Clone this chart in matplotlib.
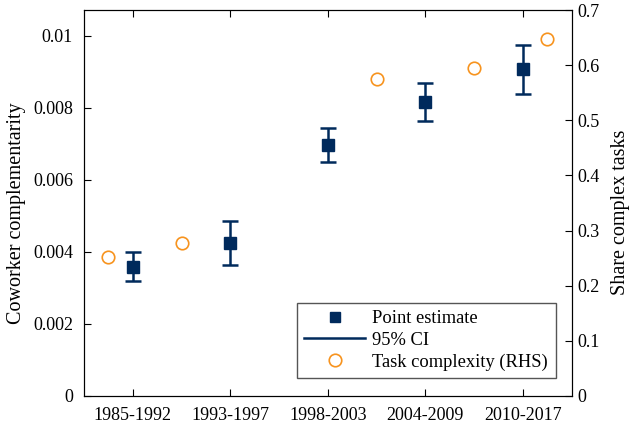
import numpy as np
import matplotlib
matplotlib.use('Agg')
from matplotlib import pyplot as plt
from matplotlib.lines import Line2D

plt.rcParams['font.family'] = 'Liberation Serif'
plt.rcParams['font.size'] = 13

####DATA####
periods = ['1985-1992', '1993-1997', '1998-2003', '2004-2009', '2010-2017']
est = [0.00359, 0.00426, 0.00697, 0.00817, 0.00907]
ci_lo = [0.00318, 0.00365, 0.00650, 0.00765, 0.00838]
ci_hi = [0.00399, 0.00486, 0.00745, 0.00869, 0.00975]
task_x = [0.75, 1.5, 3.5, 4.5, 5.25]
task_share = [0.252, 0.277, 0.575, 0.594, 0.647]
############

navy = '#002a5c'
orange = '#f7931e'

x = np.arange(1, len(periods) + 1)
est = np.array(est)
yerr = [est - np.array(ci_lo), np.array(ci_hi) - est]

fig = plt.figure(figsize=(6.29, 4.26), dpi=100)
ax = fig.add_axes([84/629, 30/426, (571.7-84)/629, (396-10)/426])
ax.errorbar(x, est, yerr=yerr, fmt='s', color=navy, ms=8, elinewidth=1.8,
            capsize=6, capthick=1.8, zorder=3)
ax.set_xlim(0.5, 5.5)
ax.set_ylim(0, 0.01072)
ax.set_xticks(x)
ax.set_xticklabels(periods)
ax.set_yticks([0, 0.002, 0.004, 0.006, 0.008, 0.01])
ax.set_yticklabels(['0', '0.002', '0.004', '0.006', '0.008', '0.01'])
ax.tick_params(direction='in', top=True, length=5, pad=8)
ax.set_ylabel('Coworker complementarity', fontsize=14.5)
ax.yaxis.set_label_coords(-0.119, 0.474)

ax2 = ax.twinx()
ax2.plot(task_x, task_share, 'o', mfc='none', mec=orange, ms=9, mew=1.2)
ax2.set_ylim(0, 0.7)
ax2.set_yticks(np.arange(0, 0.71, 0.1))
ax2.set_yticklabels(['0', '0.1', '0.2', '0.3', '0.4', '0.5', '0.6', '0.7'])
ax2.tick_params(direction='in', length=5, pad=4)
ax2.set_ylabel('Share complex tasks', rotation=90, fontsize=14.5)
ax2.yaxis.set_label_coords(1.08, 0.477)

handles = [Line2D([], [], ls='none', marker='s', color=navy, ms=7),
           Line2D([], [], color=navy, lw=1.8),
           Line2D([], [], ls='none', marker='o', mfc='none', mec=orange, ms=9, mew=1.2)]
labels = ['Point estimate', '95% CI', 'Task complexity (RHS)']
leg = ax.legend(handles, labels, loc='lower right', bbox_to_anchor=(0.986, 0.022),
                fancybox=False, edgecolor='#555555', handlelength=3.3, fontsize=13.3,
                handletextpad=0.4, labelspacing=0.25, borderpad=0.4, framealpha=1)
leg.get_frame().set_linewidth(1.0)

fig.savefig('out.png', dpi=100)
